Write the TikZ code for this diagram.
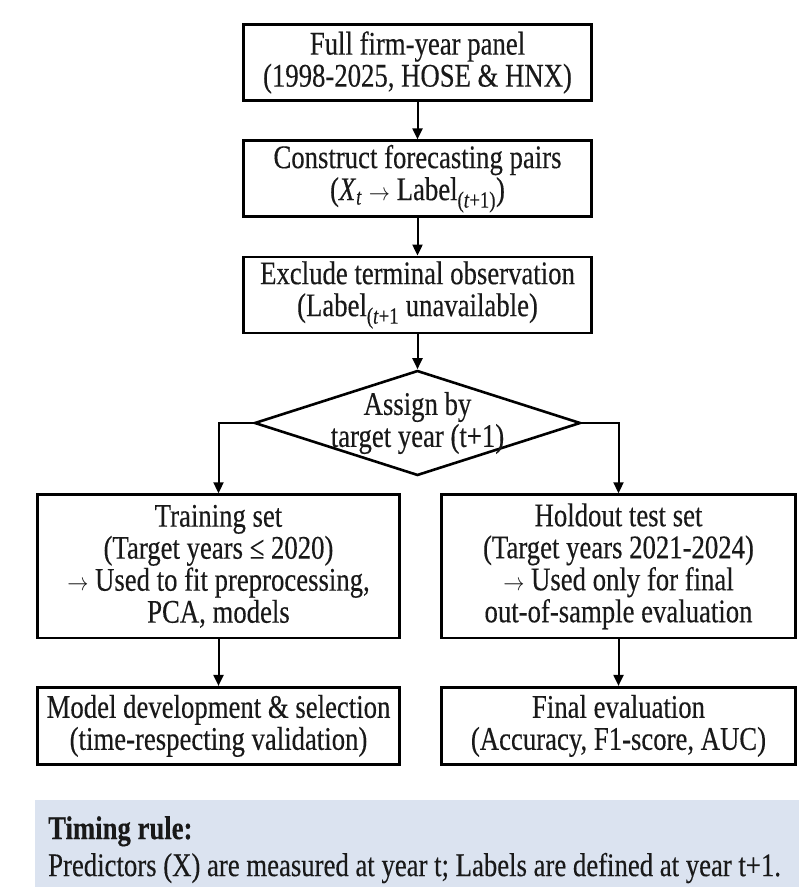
\documentclass[tikz,border=0pt]{standalone}
\usepackage{fontspec}
\setmainfont{Liberation Serif}[FakeStretch=0.81,FakeBold=0.3]
\usetikzlibrary{positioning,shapes.geometric,arrows.meta}
\definecolor{myrule}{RGB}{219,227,240}
\definecolor{myink}{RGB}{25,25,25}

\begin{document}
\begin{tikzpicture}[x=1pt,y=-1pt,font=\fontsize{33}{32}\selectfont,text=myink,
  stepbox/.style={draw,line width=2.6pt,align=center,
    minimum width=348pt,minimum height=76pt,inner sep=2pt},
  setbox/.style={stepbox,minimum height=143.4pt},
  decide/.style={draw,diamond,line width=2.6pt,
    minimum width=326pt,minimum height=105pt,inner sep=0pt},
  rulebox/.style={fill=myrule,minimum width=764pt,minimum height=87pt,inner sep=0pt},
  flow/.style={line width=2pt,-{Triangle[length=11pt,width=10pt]}}]

  \useasboundingbox (0,0) rectangle (799,888);

  \node[stepbox] (panel) at (417.5,62.5) {Full firm-year panel\\(1998-2025, HOSE \& HNX)};
  \node[stepbox,below=37.6pt of panel] (pairs)
    {Construct forecasting pairs\\(\textit{X}\textsubscript{\textit{t}} \scalebox{0.85}[1]{$\rightarrow$} Label\textsubscript{(\textit{t}+1)})};
  \node[stepbox,below=37.6pt of pairs] (exclude)
    {Exclude terminal observation\\(Label\textsubscript{(\textit{t}+1} unavailable)};

  \node[decide,below=35pt of exclude] (assign) {};
  \node[align=center,inner sep=0pt] (assigntxt) at (assign) {Assign by\\target year (t+1)};

  \node[setbox,minimum width=362.4pt,anchor=north] (train) at (218.5,493.3)
    {Training set\\(Target years ≤ 2020)\\\scalebox{0.85}[1]{$\rightarrow$} Used to fit preprocessing,\\PCA, models};
  \node[setbox,minimum width=354.4pt,anchor=north] (holdout) at (618.5,493.3)
    {Holdout test set\\(Target years 2021-2024)\\\scalebox{0.85}[1]{$\rightarrow$} Used only for final\\out-of-sample evaluation};

  \node[stepbox,minimum width=362.4pt,minimum height=77.4pt,below=46.6pt of train] (develop)
    {Model development \& selection\\(time-respecting validation)};
  \node[stepbox,minimum width=354.4pt,minimum height=77.4pt,below=46.6pt of holdout] (finaleval)
    {Final evaluation\\(Accuracy, F1-score, AUC)};

  \node[rulebox,anchor=north west] (timing) at (35,800) {};
  \node[align=left,anchor=west,inner sep=0pt] (timingtxt) at ([xshift=13pt,yshift=-6pt]timing.west)
    {\textbf{Timing rule:}\\[5pt]Predictors (X) are measured at year t; Labels are defined at year t+1.};

  \draw[flow] (panel) -- (pairs);
  \draw[flow] (pairs) -- (exclude);
  \draw[flow] (exclude) -- (assign);
  \draw[flow] (assign.west) -| (train.north);
  \draw[flow] (assign.east) -| (holdout.north);
  \draw[flow] (train) -- (develop);
  \draw[flow] (holdout) -- (finaleval);
\end{tikzpicture}
\end{document}
